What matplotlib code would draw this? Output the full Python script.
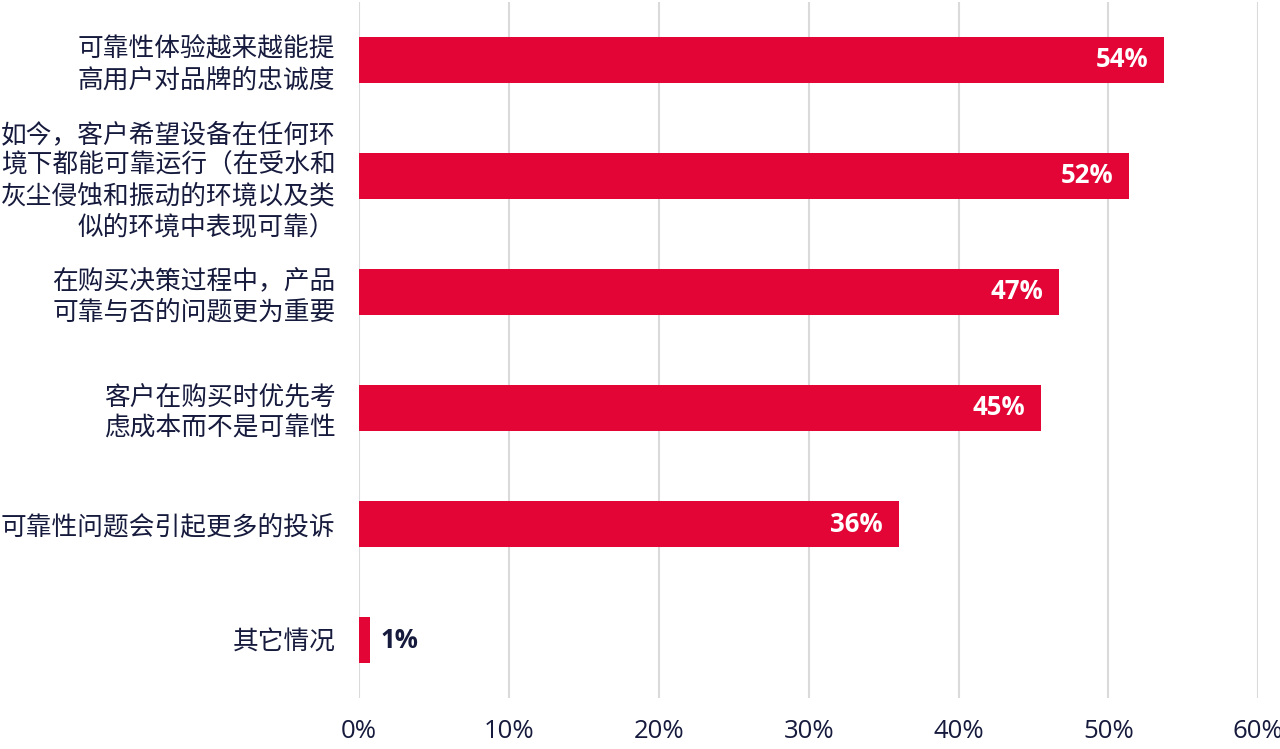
import matplotlib.pyplot as plt
from matplotlib.ticker import FuncFormatter

plt.rcParams['font.family'] = ['Noto Sans CJK SC', 'DejaVu Sans']

categories = [
    "可靠性体验越来越能提\n高用户对品牌的忠诚度",
    "如今，客户希望设备在任何环\n境下都能可靠运行（在受水和\n灰尘侵蚀和振动的环境以及类\n似的环境中表现可靠）",
    "在购买决策过程中，产品\n可靠与否的问题更为重要",
    "客户在购买时优先考\n虑成本而不是可靠性",
    "可靠性问题会引起更多的投诉",
    "其它情况",
]
values = [53.7, 51.4, 46.7, 45.5, 36.0, 0.7]
labels = ["54%", "52%", "47%", "45%", "36%", "1%"]

red = '#E30536'
navy = '#161A3C'

fig = plt.figure(figsize=(12.8, 7.49), dpi=100)
ax = fig.add_axes([0.2805, 0.068, 0.7025, 0.9295])

y = list(range(len(values)))
ax.barh(y, values, height=0.4, color=red, zorder=3)
ax.set_ylim(len(values) - 0.5, -0.5)
ax.set_xlim(0, 60)
ax.set_xticks(range(0, 61, 10))
ax.xaxis.set_major_formatter(FuncFormatter(lambda v, p: f"{v:.0f}%"))
ax.grid(axis='x', color='#DADADA', linewidth=1.5, zorder=0)
ax.set_axisbelow(True)
for s in ax.spines.values():
    s.set_visible(False)
ax.tick_params(axis='x', length=0, pad=15, labelsize=18.5, labelcolor=navy)
ax.tick_params(axis='y', length=0, pad=17)
ax.set_yticks(y)
ax.set_yticklabels(categories, fontsize=18.5, color=navy, linespacing=1.24)
for lab in ax.get_xticklabels():
    lab.set_family(['Open Sans', 'DejaVu Sans'])

for yi, v, t in zip(y, values, labels):
    if v > 5:
        ax.text(v - 1.05, yi, t, ha='right', va='center', color='white',
                fontsize=18.5, fontweight='bold', family=['Open Sans', 'DejaVu Sans'])
    else:
        ax.text(v + 0.75, yi, t, ha='left', va='center', color=navy,
                fontsize=18.5, fontweight='bold', family=['Open Sans', 'DejaVu Sans'])

fig.savefig('out.png', dpi=100)
